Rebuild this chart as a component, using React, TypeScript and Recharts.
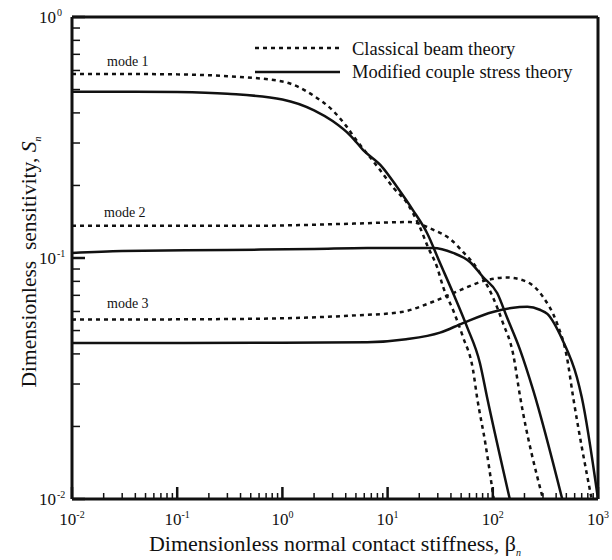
import { LineChart, Line, XAxis, YAxis, ReferenceLine } from 'recharts'

// [beta_n, S_n]
const mode1Classical = [
  [0.01, 0.58], [0.03, 0.58], [0.1, 0.578], [0.3, 0.568], [1, 0.54], [2, 0.47], [3, 0.41],
  [4, 0.355], [5, 0.31], [7, 0.258], [9, 0.224], [11.2, 0.197], [15.3, 0.169], [20.3, 0.134],
  [24.2, 0.111], [29.5, 0.0918], [33.7, 0.0759], [41.9, 0.0608], [52.1, 0.047], [64.9, 0.0343],
  [70.8, 0.0265], [85, 0.017], [102, 0.01],
]
const mode1Modified = [
  [0.01, 0.49], [0.03, 0.49], [0.1, 0.488], [0.3, 0.48], [1, 0.455], [2, 0.41], [3, 0.37],
  [4.5, 0.32], [5.83, 0.281], [8.85, 0.239], [12.3, 0.197], [17.4, 0.158], [23.7, 0.127],
  [31.5, 0.0953], [41.9, 0.0716], [56.9, 0.0518], [75.5, 0.0366], [88.1, 0.0265], [145, 0.01],
]
const mode2Classical = [
  [0.01, 0.136], [0.1, 0.136], [0.5, 0.136], [1.5, 0.137], [5, 0.139], [16.3, 0.141], [27, 0.131],
  [39.2, 0.12], [52.1, 0.106], [64.9, 0.0953], [80.7, 0.0826], [100, 0.0689], [125, 0.0537],
  [156, 0.04], [182, 0.0265], [300, 0.01],
]
const mode2Modified = [
  [0.01, 0.105], [0.03, 0.107], [0.3, 0.108], [2, 0.109], [6.4, 0.11], [27, 0.11], [41.9, 0.105],
  [60.7, 0.0963], [80.7, 0.0834], [110, 0.0716], [136, 0.0569], [182, 0.0415], [242, 0.0283],
  [457, 0.01],
]
const mode3Classical = [
  [0.01, 0.0555], [0.3, 0.0558], [1.5, 0.0565], [5, 0.0578], [13, 0.0595], [27.4, 0.066],
  [49, 0.0736], [88, 0.081], [136, 0.083], [213, 0.0795], [300, 0.069], [405, 0.054],
  [505, 0.039], [580, 0.0265], [870, 0.01],
]
const mode3Modified = [
  [0.01, 0.0444], [1, 0.0445], [6.4, 0.0447], [15, 0.046], [31.5, 0.049], [52, 0.0537],
  [100, 0.0597], [150, 0.062], [213, 0.0627], [280, 0.061], [330, 0.0586], [460, 0.0457],
  [630, 0.032], [700, 0.0265], [1000, 0.01],
]

const xMajor = [0.01, 0.1, 1, 10, 100, 1000]
const yMajor = [0.01, 0.1, 1]
const minorSteps = [2, 3, 4, 5, 6, 7, 8, 9]
const xTicks = [...xMajor, ...xMajor.slice(0, -1).flatMap(d => minorSteps.map(m => m * d))]
const yTicks = [...yMajor, ...yMajor.slice(0, -1).flatMap(d => minorSteps.map(m => m * d))]

const classical = [mode1Classical, mode2Classical, mode3Classical]
const modified = [mode1Modified, mode2Modified, mode3Modified]

const font = '"Liberation Serif", "Times New Roman", serif'
const ink = '#111'

const toRows = (pts: number[][]) => pts.map(([b, s]) => ({ b, s }))

function XTick({ x, y, payload }: any) {
  const v = payload.value
  const major = xMajor.includes(v)
  return (
    <g>
      <line x1={x} x2={x} y1={y} y2={y - (major ? 12 : 6)} stroke={ink} strokeWidth={major ? 2.5 : 1.5} />
      {major && (
        <text x={x} y={y + 26} textAnchor="middle" fontFamily={font} fontSize={17} fill={ink}>
          10<tspan dy={-7} fontSize={10}>{Math.round(Math.log10(v))}</tspan>
        </text>
      )}
    </g>
  )
}

function YTick({ x, y, payload }: any) {
  const v = payload.value
  const major = yMajor.includes(v)
  return (
    <g>
      <line x1={x} x2={x + (major ? 13 : 8)} y1={y} y2={y} stroke={ink} strokeWidth={major ? 2.5 : 1.5} />
      {major && (
        <text x={x - 16} y={y + 6} textAnchor="end" fontFamily={font} fontSize={17} fill={ink}>
          10
        </text>
      )}
      {major && (
        <text x={x - 15} y={y - 1} textAnchor="start" fontFamily={font} fontSize={10} fill={ink}>
          {Math.round(Math.log10(v))}
        </text>
      )}
    </g>
  )
}

export default function App() {
  return (
    <div style={{ position: 'relative', width: 612, height: 560, background: '#fff' }}>
      <style>{'body{margin:0}'}</style>
      <LineChart width={612} height={560} margin={{ top: 17, right: 14, bottom: 0, left: 0 }}>
        <XAxis
          dataKey="b" type="number" scale="log" domain={[0.01, 1000]} allowDataOverflow
          ticks={xTicks} interval={0} tickSize={0} tickMargin={0} tickLine={false}
          tick={<XTick />} height={61} axisLine={{ stroke: ink, strokeWidth: 3 }}
        />
        <YAxis
          type="number" scale="log" domain={[0.01, 1]} allowDataOverflow
          ticks={yTicks} interval={0} tickSize={0} tickMargin={0} tickLine={false}
          tick={<YTick />} width={72} axisLine={{ stroke: ink, strokeWidth: 3 }}
        />
        <ReferenceLine y={1} stroke={ink} strokeWidth={3} />
        <ReferenceLine x={1000} stroke={ink} strokeWidth={3} />
        {classical.map((pts, i) => (
          <Line key={'c' + i} data={toRows(pts)} dataKey="s" type="monotone" stroke={ink}
            strokeWidth={2.5} strokeDasharray="4 4" dot={false} isAnimationActive={false} />
        ))}
        {modified.map((pts, i) => (
          <Line key={'m' + i} data={toRows(pts)} dataKey="s" type="monotone" stroke={ink}
            strokeWidth={2.5} dot={false} isAnimationActive={false} />
        ))}
      </LineChart>
      <svg width={612} height={560} style={{ position: 'absolute', left: 0, top: 0, pointerEvents: 'none' }}>
        <g fontFamily={font} fill={ink}>
          <line x1={255} x2={340} y1={48} y2={48} stroke={ink} strokeWidth={2.5} strokeDasharray="4 4" />
          <line x1={255} x2={340} y1={72} y2={72} stroke={ink} strokeWidth={2.5} />
          <text x={352} y={55} fontSize={18.5}>Classical beam theory</text>
          <text x={352} y={78} fontSize={18.5}>Modified couple stress theory</text>
          <text x={107} y={66} fontSize={14}>mode 1</text>
          <text x={104} y={217} fontSize={14}>mode 2</text>
          <text x={107} y={308} fontSize={14}>mode 3</text>
          <text x={335} y={551} textAnchor="middle" fontSize={22}>
            Dimensionless normal contact stiffness, β<tspan dy={5} fontSize={10} fontStyle="italic">n</tspan>
          </text>
          <text transform="translate(36,262) rotate(-90)" textAnchor="middle" fontSize={21.5} style={{ whiteSpace: 'pre' }}>
            Dimensionless  sensitivity, <tspan fontStyle="italic">S</tspan><tspan dy={5} fontSize={10} fontStyle="italic">n</tspan>
          </text>
        </g>
      </svg>
    </div>
  )
}
